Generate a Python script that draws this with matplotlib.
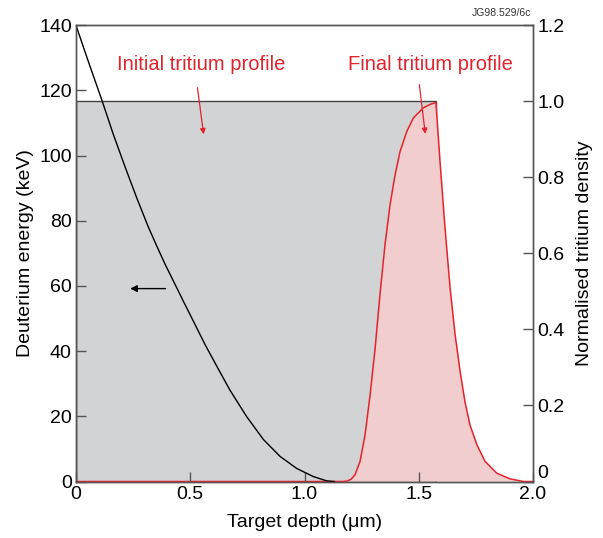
import matplotlib.pyplot as plt

plt.rcParams['font.family'] = ['Liberation Sans', 'DejaVu Sans']

# deuterium slowing-down curve (left axis, keV)
depth_d = [0.0, 0.056, 0.1125, 0.163, 0.214, 0.266, 0.316, 0.352, 0.389, 0.43, 0.47, 0.513, 0.565, 0.616,
           0.674, 0.747, 0.820, 0.893, 0.966, 1.039, 1.097, 1.13]
energy_d = [140, 128.5, 117.2, 106.6, 96.7, 87.0, 78.2, 72.5, 66.8, 61.0, 55.3, 49.3, 42.0, 35.4,
            28.0, 19.9, 12.9, 7.7, 4.0, 1.5, 0.2, 0.0]

# initial tritium profile (right axis)
init_x = [0.0, 0.0, 1.575, 1.575]
init_y = [0.0, 1.0, 1.0, 0.0]

# final tritium profile (right axis)
final_x = [0.0, 1.17, 1.185, 1.204, 1.221, 1.243, 1.265, 1.287, 1.309, 1.330, 1.352, 1.374, 1.396, 1.418,
           1.447, 1.476, 1.520, 1.550, 1.575,
           1.593, 1.615, 1.637, 1.659, 1.681, 1.702, 1.724, 1.754, 1.790, 1.841, 1.899, 1.958, 2.0]
final_y = [0.0, 0.0, 0.001, 0.006, 0.018, 0.053, 0.123, 0.228, 0.351, 0.491, 0.622, 0.727, 0.806, 0.868,
           0.920, 0.956, 0.983, 0.992, 0.997,
           0.841, 0.666, 0.509, 0.386, 0.289, 0.210, 0.149, 0.097, 0.053, 0.022, 0.007, 0.0, 0.0]

left_ticks = [0, 20, 40, 60, 80, 100, 120, 140]
right_ticks = [0, 0.2, 0.4, 0.6, 0.8, 1.0, 1.2]
right_labels = ['0', '0.2', '0.4', '0.6', '0.8', '1.0', '1.2']
x_ticks = [0, 0.5, 1.0, 1.5, 2.0]
x_labels = ['0', '0.5', '1.0', '1.5', '2.0']

spine_c = '#555555'
red = '#e3232c'

fig = plt.figure(figsize=(6.03, 5.38), dpi=100)
ax = fig.add_axes([0.126, 0.105, 0.758, 0.848])
ax2 = ax.twinx()

# right axis: tritium profiles
ax2.fill(init_x, init_y, facecolor='#d1d3d4', edgecolor='#444444', linewidth=1.0, zorder=1)
ax2.fill_between(final_x, final_y, 0, facecolor='#f2cdcd', edgecolor='none', zorder=2)
ax2.plot(final_x, final_y, color=red, linewidth=1.1, zorder=3)
ax2.set_ylim(0, 1.2)
ax2.set_yticks(right_ticks)
ax2.set_yticklabels(right_labels)
ax2.set_ylabel('Normalised tritium density', fontsize=14, labelpad=8)

# left axis: deuterium energy, drawn on top
ax.set_zorder(ax2.get_zorder() + 1)
ax.patch.set_visible(False)
ax.plot(depth_d, energy_d, color='black', linewidth=1.0)
ax.set_xlim(0, 2.0)
ax.set_ylim(0, 140)
ax.set_yticks(left_ticks)
ax.set_xticks(x_ticks)
ax.set_xticklabels(x_labels)
ax.set_xlabel('Target depth (\u03bcm)', fontsize=14, labelpad=8)
ax.set_ylabel('Deuterium energy (keV)', fontsize=14, labelpad=4)

ax.annotate('', xy=(0.225, 59.2), xytext=(0.404, 59.2),
            arrowprops=dict(arrowstyle='-|>', color='black', lw=1.0, mutation_scale=10))

for a in (ax, ax2):
    a.tick_params(direction='in', length=7, width=1, color=spine_c, labelsize=14, pad=3)
    for s in a.spines.values():
        s.set_color(spine_c)
        s.set_linewidth(1.0)

ax2.get_yticklabels()[0].set_va('bottom')

ax2.text(0.547, 1.098, 'Initial tritium profile', color=red, fontsize=14.5, ha='center', va='center')
ax2.annotate('', xy=(0.56, 0.906), xytext=(0.53, 1.043),
             arrowprops=dict(arrowstyle='-|>', color=red, lw=0.9, mutation_scale=8))
ax2.text(1.549, 1.098, 'Final tritium profile', color=red, fontsize=14.5, ha='center', va='center')
ax2.annotate('', xy=(1.53, 0.907), xytext=(1.501, 1.051),
             arrowprops=dict(arrowstyle='-|>', color=red, lw=0.9, mutation_scale=8))

fig.text(0.881, 0.966, 'JG98.529/6c', fontsize=7.5, color='#333333', ha='right', va='bottom')

fig.savefig('out.png', dpi=100)
